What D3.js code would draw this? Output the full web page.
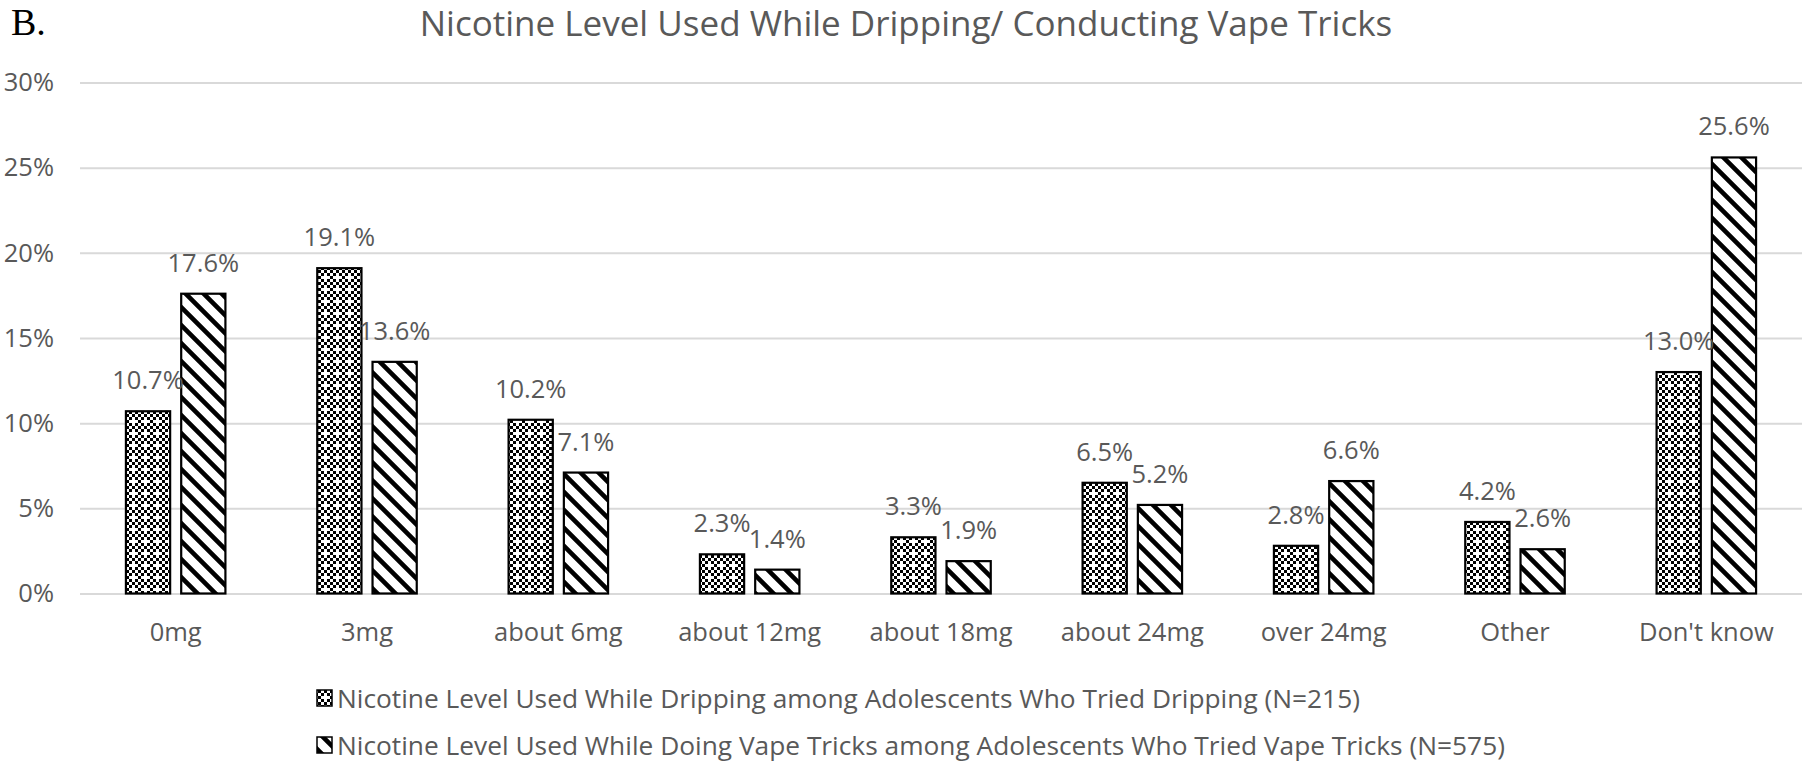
<!DOCTYPE html>
<html><head><meta charset="utf-8">
<script src="https://cdn.jsdelivr.net/npm/d3@7"></script>
<style>body{margin:0;background:#fff} text{font-family:"Open Sans",sans-serif}</style>
</head><body><svg id="c" width="1805" height="770"></svg>
<script>
const categories = ["0mg","3mg","about 6mg","about 12mg","about 18mg","about 24mg","over 24mg","Other","Don't know"];
const dripping = [10.7,19.1,10.2,2.3,3.3,6.5,2.8,4.2,13.0];
const vapeTricks = [17.6,13.6,7.1,1.4,1.9,5.2,6.6,2.6,25.6];
const yTicks = [0,5,10,15,20,25,30];
const seriesNames = [
  "Nicotine Level Used While Dripping among Adolescents Who Tried Dripping (N=215)",
  "Nicotine Level Used While Doing Vape Tricks among Adolescents Who Tried Vape Tricks (N=575)"
];
const chartTitle = "Nicotine Level Used While Dripping/ Conducting Vape Tricks";
const panelLabel = "B.";

(function(){
const svg = d3.select("#c");
const gray = "#595959";
const fs = 25.5;

// patterns
const defs = svg.append("defs");
const p1 = defs.append("pattern").attr("id","pat1").attr("patternUnits","userSpaceOnUse").attr("width",12).attr("height",12);
p1.append("rect").attr("width",12).attr("height",12).attr("fill","#fff");
for (let i=0;i<4;i++) for (let j=0;j<4;j++) {
  if ((i+j)%2===0 && !(i===0&&j===0)) p1.append("rect").attr("x",i*3).attr("y",j*3).attr("width",3).attr("height",3).attr("fill","#000");
}
const p2 = defs.append("pattern").attr("id","pat2").attr("patternUnits","userSpaceOnUse").attr("width",18).attr("height",18);
p2.append("rect").attr("width",18).attr("height",18).attr("fill","#fff");
p2.append("path").attr("d","M-4.5,-4.5L22.5,22.5M-4.5,13.5L4.5,22.5M13.5,-4.5L22.5,4.5").attr("stroke","#000").attr("stroke-width",4.6);
const fills = ["url(#pat1)","url(#pat2)"];

const pl = 80, pr = 1802, pt = 82.5, pb = 593.5;
const y = d3.scaleLinear().domain([0,30]).range([pb, pt]);
const x0 = d3.scaleBand().domain(categories).range([pl,pr]).paddingInner(0.48).paddingOuter(0.24);
const x1 = d3.scaleBand().domain([0,1]).range([0,x0.bandwidth()]).paddingInner(0.2);

// y axis + gridlines
const yAxis = svg.append("g").attr("transform",`translate(${pl},0)`)
  .call(d3.axisLeft(y).tickValues(yTicks).tickSize(-(pr-pl)).tickPadding(26).tickFormat(d=>d+"%"));
yAxis.select(".domain").remove();
yAxis.selectAll(".tick line").attr("stroke","#d9d9d9").attr("stroke-width",2);
yAxis.selectAll("text").attr("fill",gray).style("font-size",fs+"px").style("font-family","'Open Sans',sans-serif");

// x axis labels
const xAxis = svg.append("g").attr("transform",`translate(0,${pb})`)
  .call(d3.axisBottom(x0).tickSize(0).tickPadding(29.5));
xAxis.select(".domain").remove();
xAxis.selectAll("text").attr("fill",gray).style("font-size",fs+"px").style("font-family","'Open Sans',sans-serif");

// bars
const series = [dripping, vapeTricks];
series.forEach((vals, si) => {
  svg.append("g").selectAll("rect").data(vals).join("rect")
    .attr("x",(d,i)=>x0(categories[i])+x1(si))
    .attr("y",d=>y(d))
    .attr("width",x1.bandwidth())
    .attr("height",d=>y(0)-y(d))
    .attr("fill",fills[si]).attr("stroke","#000").attr("stroke-width",2.2);
});
series.forEach((vals, si) => {
  svg.append("g").selectAll("text").data(vals).join("text")
    .attr("x",(d,i)=>x0(categories[i])+x1(si)+x1.bandwidth()/2)
    .attr("y",d=>y(d)-22)
    .attr("text-anchor","middle").attr("fill",gray).style("font-size",fs+"px")
    .text(d=>d.toFixed(1)+"%");
});

// legend
seriesNames.forEach((name, si) => {
  const gy = 690 + si*47;
  svg.append("rect").attr("x",317).attr("y",gy).attr("width",15).attr("height",16)
    .attr("fill",fills[si]).attr("stroke","#000").attr("stroke-width",1.5);
  svg.append("text").attr("x",337).attr("y",gy+18).attr("fill",gray).style("font-size","26.3px").text(name);
});

// title
const t = svg.append("text").attr("x",906).attr("y",36).attr("text-anchor","middle").attr("fill",gray)
  .style("font-size","33px").text(chartTitle);
const tl = t.node().getComputedTextLength();
t.style("font-size",(33*973/tl)+"px");

svg.append("text").attr("x",11).attr("y",35).attr("fill","#000")
  .style("font-family","'Liberation Serif','Times New Roman',serif").style("font-size","38px").text(panelLabel);
})();
</script></body></html>
